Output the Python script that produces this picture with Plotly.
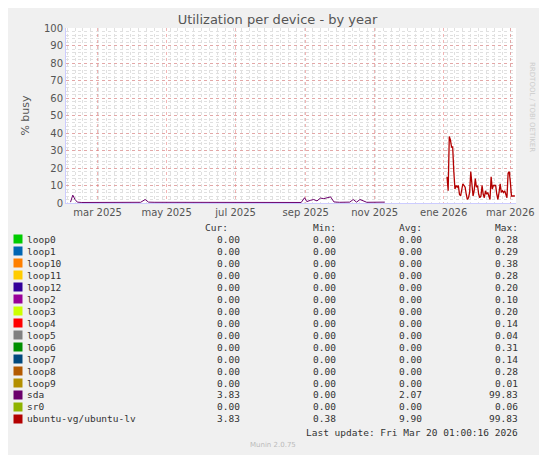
import plotly.graph_objects as go

sda_dates = ["2025-02-05","2025-02-07","2025-02-09","2025-02-11","2025-02-15","2025-02-20","2025-03-01","2025-03-10","2025-03-20","2025-04-01","2025-04-08","2025-04-12","2025-04-15","2025-04-20","2025-04-28","2025-05-01","2025-05-04","2025-05-10","2025-05-20","2025-06-01","2025-06-20","2025-07-10","2025-08-01","2025-08-20","2025-08-28","2025-08-31","2025-09-02","2025-09-05","2025-09-08","2025-09-11","2025-09-14","2025-09-17","2025-09-20","2025-09-23","2025-09-26","2025-10-01","2025-10-10","2025-10-13","2025-10-16","2025-10-19","2025-10-25","2025-11-05","2025-11-10"]
sda_values = [0.5,4.5,2.0,0.5,0.3,0.3,0.4,0.3,0.3,0.3,0.4,2.0,0.5,0.4,0.4,0.6,0.3,0.5,0.3,0.3,0.2,0.2,0.2,0.3,0.3,3.0,0.8,1.5,2.0,1.2,2.8,2.5,3.2,3.5,0.6,0.4,0.5,2.0,0.5,2.0,0.4,0.5,0.5]

lv_dates = ["2026-01-04","2026-01-05","2026-01-06","2026-01-07","2026-01-08","2026-01-09","2026-01-10","2026-01-11","2026-01-12","2026-01-13","2026-01-14","2026-01-15","2026-01-16","2026-01-17","2026-01-18","2026-01-19","2026-01-20","2026-01-21","2026-01-22","2026-01-23","2026-01-24","2026-01-25","2026-01-26","2026-01-27","2026-01-28","2026-01-29","2026-01-30","2026-01-31","2026-02-01","2026-02-02","2026-02-03","2026-02-04","2026-02-05","2026-02-06","2026-02-07","2026-02-08","2026-02-09","2026-02-10","2026-02-11","2026-02-12","2026-02-13","2026-02-14","2026-02-15","2026-02-16","2026-02-17","2026-02-18","2026-02-19","2026-02-20","2026-02-21","2026-02-22","2026-02-23","2026-02-24","2026-02-25","2026-02-26","2026-02-27","2026-02-28","2026-03-01","2026-03-02","2026-03-03","2026-03-04","2026-03-05"]
lv_values = [15,7,38,36,32,32,18,8,10,9,10,5,4,8,11,10,9,5,2,3,6,18,10,4,7,14,9,10,5,3,4,10,5,3,7,5,6,3,2,15,8,10,10,10,5,2,6,11,6,7,6,7,5,3,17,18,12,4,4,4,4]

rows = ["loop0","loop1","loop10","loop11","loop12","loop2","loop3","loop4","loop5","loop6","loop7","loop8","loop9","sda","sr0","ubuntu-vg/ubuntu-lv"]
colors = ["#00CC00","#0066B3","#FF8000","#FFCC00","#330099","#990099","#CCFF00","#FF0000","#808080","#008F00","#00487D","#B35A00","#B38F00","#6B006B","#8FB300","#B30000"]
cur = ["0.00"]*13 + ["3.83","0.00","3.83"]
mins = ["0.00"]*15 + ["0.38"]
avgs = ["0.00"]*13 + ["2.07","0.00","9.90"]
maxs = ["0.28","0.29","0.38","0.28","0.20","0.10","0.20","0.14","0.04","0.31","0.14","0.28","0.01","99.83","0.06","99.83"]
yticks = list(range(0, 101, 10))
xtick_vals = ["2025-03-01","2025-05-01","2025-07-01","2025-09-01","2025-11-01","2026-01-01","2026-03-01"]
xtick_text = ["mar 2025","may 2025","jul 2025","sep 2025","nov 2025","ene 2026","mar 2026"]

fig = go.Figure()
fig.add_trace(go.Scatter(x=sda_dates, y=sda_values, mode="lines", line=dict(color="#6B006B", width=1), showlegend=False))
fig.add_trace(go.Scatter(x=lv_dates, y=lv_values, mode="lines", line=dict(color="#B30000", width=1.3), showlegend=False))

O = 8  # page offset of the figure
W, H = 547 - O, 455 - O
L, R, T, B = 66 - O, 516 - O, 28 - O, 203 - O
def px(xp): return (xp - O - L) / (R - L)
def py(yp): return (B - (yp - O)) / (B - T)

fig.update_layout(
    width=W, height=H, margin=dict(l=L, r=W-R, t=T, b=H-B),
    paper_bgcolor="#F0F0F0", plot_bgcolor="#FFFFFF",
    font=dict(family="DejaVu Sans", size=10, color="#555555"),
    title=dict(text="Utilization per device - by year", x=0.5, xanchor="center", y=1-(19-O)/H, yanchor="middle", font=dict(size=13, color="#555555")),
    xaxis=dict(range=["2025-02-01", "2026-03-06"], tickvals=xtick_vals, ticktext=xtick_text,
               showgrid=True, gridcolor="rgba(230,120,120,0.55)", griddash="dot", gridwidth=1,
               minor=dict(dtick=7*86400000, showgrid=True, gridcolor="#E0E0E0", griddash="dot"),
               ticks="", showline=True, linecolor="#CCCCFF", zeroline=False, tickfont=dict(size=10)),
    yaxis=dict(range=[0, 100], tickvals=yticks, showgrid=True, gridcolor="rgba(230,120,120,0.55)", griddash="dot",
               minor=dict(dtick=2, showgrid=True, gridcolor="#E0E0E0", griddash="dot"),
               ticks="", showline=True, linecolor="#CCCCFF", zeroline=False, tickfont=dict(size=10),
               title=dict(text="% busy", font=dict(size=11), standoff=12)),
)

mono = dict(family="DejaVu Sans Mono", size=9.5, color="#333333")
ann = []
def A(x, y, t, anchor="left", font=mono):
    ann.append(dict(x=px(x), y=py(y), xref="paper", yref="paper", text=t, showarrow=False, xanchor=anchor, yanchor="middle", font=font))
for xx, t in [(230, "Cur:"), (338, "Min:"), (424, "Avg:"), (520, "Max:")]:
    A(xx, 227, t, "right")
for i, r in enumerate(rows):
    y = 239 + i * 12
    ann.append(dict(x=px(13), y=py(y), xref="paper", yref="paper", text="", showarrow=False, width=6, height=6, bgcolor=colors[i], xanchor="left", yanchor="middle"))
    A(25, y, r)
    A(242, y, cur[i], "right"); A(338, y, mins[i], "right"); A(424, y, avgs[i], "right"); A(520, y, maxs[i], "right")
A(520, 432, "Last update: Fri Mar 20 01:00:16 2026", "right")
A(273, 445, "Munin 2.0.75", "center", dict(family="DejaVu Sans", size=7, color="#BBBBBB"))
ann.append(dict(x=px(538), y=py(60), xref="paper", yref="paper", text="RRDTOOL / TOBI OETIKER", textangle=90, showarrow=False,
                font=dict(family="DejaVu Sans", size=7, color="#CCCCCC")))
fig.update_layout(annotations=ann)
fig.write_html("out.html")
